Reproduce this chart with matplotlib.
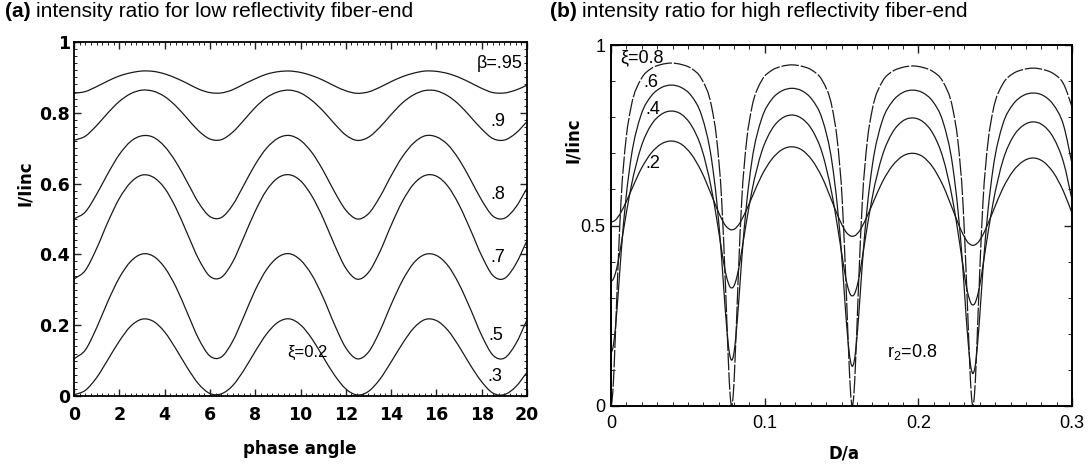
import matplotlib
matplotlib.use('Agg')
import numpy as np
import matplotlib.pyplot as plt
from matplotlib.ticker import MultipleLocator
from matplotlib.path import Path
from matplotlib.patches import PathPatch

# ---------------- panel (a) data ----------------
PHASE = [i * 0.5 for i in range(41)]
BETA_095 = [.855, .860, .874, .890, .904, .913, .918, .917, .910, .898, .883, .867, .857, .856,
            .865, .881, .896, .909, .916, .918, .914, .905, .892, .876, .862, .855, .859, .872,
            .888, .902, .912, .918, .917, .911, .900, .885, .869, .857, .856, .864, .878]
BETA_09 = [.722, .734, .764, .800, .832, .854, .864, .861, .846, .819, .784, .749, .726, .724,
           .745, .779, .815, .843, .859, .864, .856, .835, .805, .769, .737, .722, .731, .759,
           .795, .828, .851, .863, .862, .848, .823, .789, .754, .727, .723, .742, .775]
BETA_08 = [.500, .520, .570, .629, .682, .719, .735, .731, .705, .661, .604, .546, .507, .504,
           .539, .596, .654, .700, .728, .736, .722, .688, .637, .577, .525, .500, .515, .562,
           .622, .676, .715, .735, .732, .710, .668, .612, .553, .508, .502, .533, .587]
BETA_07 = [.330, .355, .417, .492, .558, .603, .624, .618, .587, .531, .459, .387, .338, .335,
           .378, .449, .522, .581, .616, .625, .608, .565, .502, .427, .361, .330, .349, .407,
           .482, .550, .599, .623, .621, .593, .540, .470, .396, .340, .332, .372, .439]
BETA_05 = [.105, .130, .193, .268, .334, .380, .401, .395, .363, .308, .235, .162, .113, .110,
           .154, .225, .299, .357, .392, .402, .384, .342, .278, .202, .136, .105, .124, .183,
           .258, .326, .376, .400, .397, .369, .316, .246, .171, .115, .107, .147, .215]
BETA_03 = [.003, .016, .052, .103, .155, .197, .217, .211, .181, .133, .080, .034, .007, .006,
           .029, .073, .126, .175, .208, .218, .201, .162, .110, .059, .020, .003, .013, .047,
           .096, .148, .192, .216, .213, .186, .140, .087, .040, .008, .004, .026, .067]
BETA_LABELS = ['β=.95', '.9', '.8', '.7', '.5', '.3']

# ---------------- panel (b) data ----------------
D_A = [0, .0011, .0022, .0033, .0044, .0065, .0098, .0131, .0196, .0262, .0327, .0393,
       .0458, .0523, .0589, .0654, .0687, .0720, .0741, .0752, .0763, .0774, .0785,
       .0796, .0807, .0818, .0829, .0850, .0883, .0916, .0981, .1047, .1112, .1178,
       .1243, .1308, .1374, .1439, .1472, .1505, .1526, .1537, .1548, .1559, .1570,
       .1581, .1592, .1603, .1614, .1635, .1668, .1701, .1766, .1832, .1897, .1963,
       .2028, .2093, .2159, .2224, .2257, .2290, .2311, .2322, .2333, .2344, .2355,
       .2366, .2377, .2388, .2399, .2420, .2453, .2486, .2551, .2617, .2682, .2748,
       .2813, .2878, .2944, .3009]
XI_08 = [0, .036, .130, .252, .372, .569, .741, .830, .906, .935, .946, .950,
         .946, .935, .906, .830, .741, .569, .372, .252, .130, .036, 0,
         .036, .129, .250, .370, .566, .737, .826, .902, .930, .941, .945,
         .941, .930, .902, .826, .737, .566, .370, .250, .129, .036, 0,
         .036, .129, .250, .369, .564, .735, .823, .899, .927, .938, .942,
         .938, .927, .899, .823, .735, .564, .369, .250, .129, .036, 0,
         .036, .128, .248, .367, .561, .730, .818, .893, .921, .932, .936,
         .932, .921, .893, .818]
XI_06 = [.148, .159, .191, .239, .297, .421, .579, .689, .807, .859, .882, .889,
         .882, .859, .805, .683, .570, .407, .280, .221, .171, .138, .127,
         .138, .171, .220, .278, .404, .564, .677, .797, .850, .873, .880,
         .873, .849, .795, .672, .557, .393, .265, .205, .155, .122, .110,
         .121, .154, .204, .264, .392, .554, .668, .791, .844, .868, .875,
         .868, .844, .789, .663, .546, .379, .248, .187, .136, .102, .090,
         .102, .135, .186, .246, .376, .541, .657, .782, .836, .860, .867,
         .860, .835, .779, .652]
XI_04 = [.346, .349, .359, .375, .395, .446, .531, .608, .718, .779, .808, .817,
         .808, .777, .714, .600, .520, .431, .378, .357, .341, .330, .327,
         .330, .340, .356, .377, .429, .515, .594, .705, .767, .797, .806,
         .796, .765, .701, .584, .502, .412, .358, .336, .319, .308, .305,
         .308, .319, .335, .357, .410, .499, .580, .694, .758, .789, .798,
         .788, .756, .689, .569, .484, .390, .334, .312, .295, .283, .280,
         .283, .294, .311, .333, .388, .479, .562, .681, .746, .777, .787,
         .777, .744, .676, .554]
XI_02 = [.510, .511, .513, .517, .523, .537, .565, .597, .657, .701, .726, .734,
         .725, .697, .649, .584, .549, .518, .502, .496, .492, .489, .488,
         .489, .491, .496, .501, .516, .545, .577, .639, .684, .710, .718,
         .709, .681, .633, .566, .531, .500, .484, .478, .474, .471, .470,
         .471, .473, .478, .483, .498, .527, .559, .621, .666, .692, .700,
         .691, .662, .612, .544, .508, .476, .460, .453, .449, .446, .445,
         .446, .449, .453, .459, .474, .505, .539, .604, .651, .678, .687,
         .677, .647, .595, .524]
XI_LABELS = ['ξ=0.8', '.6', '.4', '.2']

LINE = '#1a1a1a'
FAM = ['Liberation Sans', 'DejaVu Sans']


def smooth_line(ax, x, y, **kw):
    """Draw a smooth cubic Bezier line through the data points (3-point slopes)."""
    x = np.asarray(x, float)
    y = np.asarray(y, float)
    h = np.diff(x)
    d = np.diff(y) / h
    m = np.zeros_like(y)
    m[0], m[-1] = d[0], d[-1]
    for i in range(1, len(y) - 1):
        m[i] = (h[i - 1] * d[i] + h[i] * d[i - 1]) / (h[i - 1] + h[i])
    verts = [(x[0], y[0])]
    codes = [Path.MOVETO]
    for i in range(len(h)):
        verts += [(x[i] + h[i] / 3, y[i] + m[i] * h[i] / 3),
                  (x[i + 1] - h[i] / 3, y[i + 1] - m[i + 1] * h[i] / 3),
                  (x[i + 1], y[i + 1])]
        codes += [Path.CURVE4] * 3
    ax.add_patch(PathPatch(Path(verts, codes), fill=False, **kw))


fig = plt.figure(figsize=(10.9, 4.65), dpi=100)

# ---------------- panel (a) ----------------
axA = fig.add_axes([0.0679, 0.1484, 0.4156, 0.7613])
for ys in [BETA_095, BETA_09, BETA_08, BETA_07, BETA_05, BETA_03]:
    smooth_line(axA, PHASE, ys, ec=LINE, lw=0.9)
axA.set_xlim(0, 20)
axA.set_ylim(0, 1)
axA.set_xticks(range(0, 21, 2))
axA.set_xticklabels([str(v) for v in range(0, 21, 2)])
axA.set_yticks([0, .2, .4, .6, .8, 1])
axA.set_yticklabels(['0', '0.2', '0.4', '0.6', '0.8', '1'])
axA.xaxis.set_minor_locator(MultipleLocator(0.25))
axA.yaxis.set_minor_locator(MultipleLocator(0.02))
axA.tick_params(which='both', direction='in', top=True, right=True, color='#222')
axA.tick_params(which='major', length=5, width=1)
axA.tick_params(which='minor', length=2.5, width=0.7)
axA.tick_params(axis='x', pad=7.5)
axA.tick_params(axis='y', pad=3)
for lab in axA.get_xticklabels() + axA.get_yticklabels():
    lab.set_fontfamily('DejaVu Sans')
    lab.set_fontweight('bold')
    lab.set_fontsize(12.5)
for sp in axA.spines.values():
    sp.set_linewidth(1.3)
axA.set_xlabel('phase angle', fontsize=12, fontweight='bold', family='DejaVu Sans')
axA.xaxis.set_label_coords(0.499, -0.125)
axA.set_ylabel('I/Iinc', fontsize=12, fontweight='bold', family='DejaVu Sans')
axA.yaxis.set_label_coords(-0.088, 0.60)

a_pos = [(19.8, .938, 'right'), (18.37, .774, 'left'), (18.37, .568, 'left'),
         (18.37, .39, 'left'), (18.28, .172, 'left'), (18.23, .054, 'left')]
for (x, y, ha), t in zip(a_pos, BETA_LABELS):
    axA.text(x, y, t, ha=ha, va='center', fontsize=13, family=FAM)
axA.text(9.4, .124, 'ξ=0.2', ha='left', va='center', fontsize=12, family=FAM)

# ---------------- panel (b) ----------------
axB = fig.add_axes([0.5606, 0.1269, 0.4229, 0.7763])
smooth_line(axB, D_A, XI_08, ec=LINE, lw=0.9, linestyle=(0, (14, 1.5)))
for ys in [XI_06, XI_04, XI_02]:
    smooth_line(axB, D_A, ys, ec=LINE, lw=0.9)
axB.set_xlim(0, 0.3)
axB.set_ylim(0, 1)
axB.set_xticks([0, .1, .2, .3])
axB.set_xticklabels(['0', '0.1', '0.2', '0.3'])
axB.set_yticks([0, .5, 1])
axB.set_yticklabels(['0', '0.5', '1'])
axB.xaxis.set_minor_locator(MultipleLocator(0.01))
axB.yaxis.set_minor_locator(MultipleLocator(0.1))
axB.tick_params(which='both', direction='in', top=True, right=True, color='#222')
axB.tick_params(which='major', length=6, width=1)
axB.tick_params(which='minor', length=3, width=0.7)
axB.tick_params(axis='x', pad=6.5)
axB.tick_params(axis='y', pad=4)
for lab in axB.get_xticklabels() + axB.get_yticklabels():
    lab.set_fontfamily('Liberation Sans')
    lab.set_fontsize(13)
for sp in axB.spines.values():
    sp.set_linewidth(1.4)
axB.set_xlabel('D/a', fontsize=12, fontweight='bold', family='DejaVu Sans')
axB.xaxis.set_label_coords(0.505, -0.108)
axB.set_ylabel('I/Iinc', fontsize=12, fontweight='bold', family='DejaVu Sans')
axB.yaxis.set_label_coords(-0.063, 0.737)

b_pos = [(0.0059, .964), (0.0208, .895), (0.0221, .82), (0.0221, .673)]
for (x, y), t in zip(b_pos, XI_LABELS):
    axB.text(x, y, t, ha='left', va='center', fontsize=13, family=FAM)
axB.text(0.1796, 0.15, r'$\mathregular{r_2}$=0.8', ha='left', va='center', fontsize=13, family=FAM)

# ---------------- titles ----------------
for x0, letter, rest in [(0.0046, '(a)', 'intensity ratio for low reflectivity fiber-end'),
                         (0.5046, '(b)', 'intensity ratio for high reflectivity fiber-end')]:
    t1 = fig.text(x0, 0.975, letter, fontsize=15, fontweight='bold', family='Liberation Sans',
                  va='center', ha='left')
    fig.canvas.draw()
    plt.annotate(rest, xy=(1, 0), xycoords=t1, xytext=(4, 0), textcoords='offset points',
                 fontsize=15, family='Liberation Sans', va='bottom', ha='left',
                 annotation_clip=False)

fig.savefig('out.png', dpi=100)
